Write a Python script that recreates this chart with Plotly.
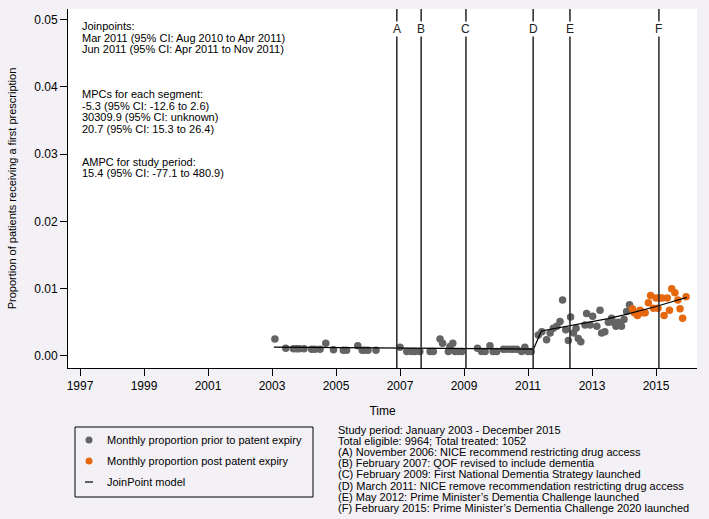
import plotly.graph_objects as go

# ---------------- data ----------------
pre_time = [2003.09, 2003.43, 2003.67, 2003.77, 2003.85, 2004.00, 2004.24, 2004.34, 2004.50,
            2004.68, 2004.92, 2005.23, 2005.33, 2005.68, 2005.82, 2005.90, 2006.00, 2006.25,
            2007.00, 2007.21, 2007.36, 2007.47, 2007.62, 2007.94, 2008.04, 2008.25, 2008.33,
            2008.51, 2008.56, 2008.65, 2008.72, 2008.82, 2008.93, 2009.42, 2009.55, 2009.66,
            2009.81, 2009.91, 2010.02, 2010.23, 2010.33, 2010.44, 2010.54, 2010.65, 2010.80,
            2010.90, 2011.00, 2011.10, 2011.32, 2011.43, 2011.58, 2011.69, 2011.79, 2011.90,
            2012.00, 2012.08, 2012.18, 2012.26, 2012.33, 2012.42, 2012.50, 2012.57, 2012.65,
            2012.78, 2012.83, 2012.94, 2013.02, 2013.15, 2013.25, 2013.30, 2013.40, 2013.51,
            2013.61, 2013.66, 2013.75, 2013.82, 2013.92, 2014.00, 2014.08, 2014.17]
pre_value = [0.0025, 0.00115, 0.00105, 0.00105, 0.00105, 0.00105, 0.0010, 0.0010, 0.0010,
             0.0019, 0.0009, 0.00085, 0.00085, 0.0015, 0.00085, 0.00085, 0.00085, 0.00085,
             0.0013, 0.00065, 0.00065, 0.00065, 0.00065, 0.00065, 0.00065, 0.0025, 0.0019,
             0.00065, 0.0014, 0.0019, 0.00065, 0.00065, 0.00065, 0.00115, 0.00065, 0.00065,
             0.0015, 0.00065, 0.00065, 0.0010, 0.0010, 0.0010, 0.0010, 0.0010, 0.00065,
             0.0013, 0.00065, 0.00065, 0.0031, 0.0036, 0.0024, 0.0034, 0.0041, 0.0044,
             0.0051, 0.0083, 0.0039, 0.0023, 0.0058, 0.0034, 0.0041, 0.0026, 0.0021,
             0.0046, 0.0063, 0.0046, 0.0059, 0.0044, 0.0068, 0.0034, 0.0036, 0.0050,
             0.0056, 0.0050, 0.0044, 0.0050, 0.0044, 0.0054, 0.0066, 0.0076]

post_time = [2014.26, 2014.32, 2014.42, 2014.50, 2014.58, 2014.66, 2014.76, 2014.83, 2014.92,
             2015.00, 2015.06, 2015.10, 2015.19, 2015.25, 2015.35, 2015.42, 2015.49, 2015.59,
             2015.68, 2015.75, 2015.83, 2015.94]
post_value = [0.0070, 0.0064, 0.0060, 0.0068, 0.0064, 0.0064, 0.0079, 0.0090, 0.0071,
              0.0086, 0.0071, 0.0086, 0.0086, 0.0060, 0.0086, 0.0068, 0.0100, 0.0094,
              0.0083, 0.0070, 0.0056, 0.0088]

model_time = [2003.06, 2011.17, 2011.42, 2012.0, 2012.5, 2013.0, 2013.5, 2014.0, 2014.5,
              2015.0, 2015.5, 2015.96]
model_value = [0.0013, 0.00102, 0.0037, 0.0042, 0.0046, 0.00505, 0.00555, 0.0061, 0.0067,
               0.00735, 0.00805, 0.0087]

event_labels = ["A", "B", "C", "D", "E", "F"]
event_time = [2006.90, 2007.66, 2009.06, 2011.16, 2012.31, 2015.09]

x_ticks = [1997, 1999, 2001, 2003, 2005, 2007, 2009, 2011, 2013, 2015]
y_ticks = [0.00, 0.01, 0.02, 0.03, 0.04, 0.05]

series_names = ["Monthly proportion prior to patent expiry",
                "Monthly proportion post patent expiry",
                "JoinPoint model"]

left_notes = [
    ("Joinpoints:", 26),
    ("Mar 2011 (95% CI: Aug 2010 to Apr 2011)", 37.5),
    ("Jun 2011 (95% CI: Apr 2011 to Nov 2011)", 49),
    ("MPCs for each segment:", 94),
    ("-5.3 (95% CI: -12.6 to 2.6)", 105.5),
    ("30309.9 (95% CI: unknown)", 117),
    ("20.7 (95% CI: 15.3 to 26.4)", 128.5),
    ("AMPC for study period:", 161.5),
    ("15.4 (95% CI: -77.1 to 480.9)", 173),
]
right_notes = [
    "Study period: January 2003 - December 2015",
    "Total eligible: 9964; Total treated: 1052",
    "(A) November 2006: NICE recommend restricting drug access",
    "(B) February 2007: QOF revised to include dementia",
    "(C) February 2009: First National Dementia Strategy launched",
    "(D) March 2011: NICE remove recommendation restricting drug access",
    "(E) May 2012: Prime Minister\u2019s Dementia Challenge launched",
    "(F) February 2015: Prime Minister\u2019s Dementia Challenge 2020 launched",
]

# ---------------- layout helpers ----------------
W, H = 709, 519
L, R, T, B = 68, 12, 9, 151
PH = H - T - B
PW = W - L - R
FONT = "Liberation Sans, Arial, sans-serif"
GRAY = "#646464"
ORANGE = "#E5680F"
PAGE_BG = "#F3F1F6"


def py(ypx):
    return (H - B - ypx) / PH


def px(xpx):
    return (xpx - L) / PW


fig = go.Figure()

fig.add_trace(go.Scatter(x=pre_time, y=pre_value, mode="markers",
                         marker=dict(color=GRAY, size=7.5), name=series_names[0]))
fig.add_trace(go.Scatter(x=post_time, y=post_value, mode="markers",
                         marker=dict(color=ORANGE, size=7.5), name=series_names[1]))
fig.add_trace(go.Scatter(x=model_time, y=model_value, mode="lines",
                         line=dict(color="black", width=1.2), name=series_names[2]))

for lab, t in zip(event_labels, event_time):
    fig.add_shape(type="line", xref="x", yref="paper", x0=t, x1=t, y0=0, y1=1,
                  line=dict(color="#262626", width=1.5), layer="above")
    fig.add_annotation(x=t, xref="x", y=py(21), yref="paper", text=lab,
                       showarrow=False, bgcolor="white", borderpad=0,
                       font=dict(family=FONT, size=12, color="#222222"))

for txt, ypos in left_notes:
    fig.add_annotation(x=px(80), xref="paper", y=py(ypos), yref="paper", text=txt,
                       showarrow=False, xanchor="left", yanchor="middle",
                       font=dict(family=FONT, size=11, color="black"))

for i, txt in enumerate(right_notes):
    fig.add_annotation(x=px(336), xref="paper", y=py(430 + 11.1 * i), yref="paper",
                       text=txt, showarrow=False, xanchor="left", yanchor="middle",
                       font=dict(family=FONT, size=11, color="black"))

# ---- legend box (drawn as decoration, keyed to the series above) ----
fig.add_shape(type="rect", xref="paper", yref="paper", x0=px(75), x1=px(313),
              y0=py(497), y1=py(427), line=dict(color="black", width=1),
              fillcolor="rgba(0,0,0,0)")
legend_rows = [440, 461, 482]
for ypos, colr in zip(legend_rows[:2], [GRAY, ORANGE]):
    fig.add_shape(type="circle", xref="paper", yref="paper",
                  x0=px(85.5), x1=px(92.5), y0=py(ypos + 3.5), y1=py(ypos - 3.5),
                  line=dict(width=0), fillcolor=colr)
fig.add_shape(type="line", xref="paper", yref="paper", x0=px(85), x1=px(93),
              y0=py(legend_rows[2]), y1=py(legend_rows[2]),
              line=dict(color="black", width=1.2))
for ypos, name in zip(legend_rows, series_names):
    fig.add_annotation(x=px(105), xref="paper", y=py(ypos), yref="paper", text=name,
                       showarrow=False, xanchor="left", yanchor="middle",
                       font=dict(family=FONT, size=11, color="black"))

fig.update_layout(
    width=W, height=H,
    margin=dict(l=L, r=R, t=T, b=B, autoexpand=False),
    paper_bgcolor=PAGE_BG,
    plot_bgcolor="white",
    font=dict(family=FONT, size=12, color="black"),
    showlegend=False,
)
fig.update_xaxes(range=[1996.625, 2016.28], tickvals=x_ticks, showline=True,
                 linecolor="black", linewidth=1, ticks="outside", ticklen=7,
                 tickcolor="black", showgrid=False, zeroline=False, automargin=False,
                 tickfont=dict(size=12),
                 title=dict(text="Time", font=dict(size=12), standoff=14))
fig.update_yaxes(range=[-0.0018, 0.0516], tickvals=y_ticks, tickformat=".2f",
                 showline=True, linecolor="black", linewidth=1, ticks="outside",
                 ticklen=7, tickcolor="black", showgrid=False, zeroline=False,
                 automargin=False, tickfont=dict(size=12),
                 title=dict(text="Proportion of patients receiving a first prescription",
                            font=dict(size=11), standoff=15))

fig.write_html("out.html", config={"displayModeBar": False},
               post_script="document.body.style.margin='0';"
                           "document.body.style.background='" + PAGE_BG + "';")
